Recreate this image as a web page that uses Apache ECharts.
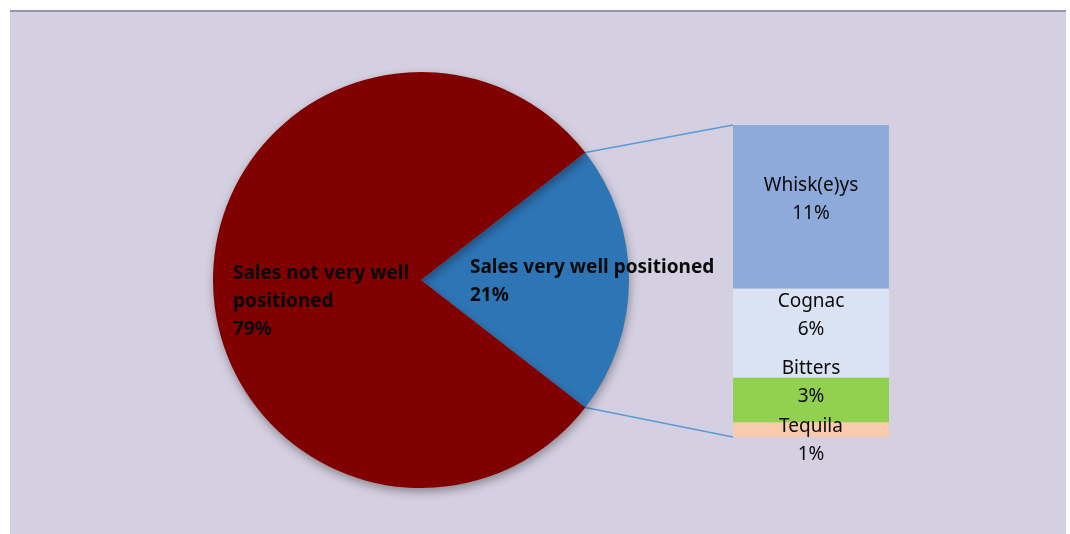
<!DOCTYPE html>
<html>
<head>
<meta charset="utf-8">
<script src="https://cdn.jsdelivr.net/npm/echarts@6/dist/echarts.min.js"></script>
<style>
  html, body { margin: 0; padding: 0; background: #ffffff; }
  #chart { width: 1070px; height: 534px; }
</style>
</head>
<body>
<div id="chart"></div>
<script>
// Split of sales, with the well-positioned share broken down by spirit
const pieNames = ['Sales very well positioned', 'Sales not very well\npositioned'];
const pieValues = [21, 79];
const pieColors = ['#2e75b6', '#800000'];

const barNames = ['Whisk(e)ys', 'Cognac', 'Bitters', 'Tequila'];
const barValues = [11, 6, 3, 1];
const barColors = ['#8eaadb', '#dae3f3', '#92d050', '#f8cbad'];
const barLabelOffsets = [-7, -17, -17, 11];

// Layout
const cx = 421, cy = 280, R = 208;
const gridLeft = 733, gridTop = 125, gridW = 156, gridH = 312;

const pieTotal = pieValues.reduce((a, b) => a + b, 0);
const barTotal = barValues.reduce((a, b) => a + b, 0);
const halfAngle = pieValues[0] / pieTotal * 360 / 2;

const chart = echarts.init(document.getElementById('chart'));

// Stacked column: bottom segment first so the first category ends on top
const barSeries = barNames.map((name, i) => ({
  type: 'bar',
  name: name,
  stack: 'breakdown',
  barWidth: '100%',
  z: 3,
  data: [barValues[i]],
  itemStyle: { color: barColors[i] },
  label: {
    show: true,
    position: 'inside',
    offset: [0, barLabelOffsets[i]],
    formatter: p => p.seriesName + '\n' + p.value + '%',
    fontFamily: 'Noto Sans',
    fontSize: 19,
    lineHeight: 28,
    color: '#0a0a0a'
  }
})).reverse();

const rad = halfAngle * Math.PI / 180;
const pieTop = [cx + R * Math.cos(rad), cy - R * Math.sin(rad)];
const pieBottom = [cx + R * Math.cos(rad), cy + R * Math.sin(rad)];

chart.setOption({
  animation: false,
  graphic: [
    { type: 'rect', z: -10, shape: { x: 10, y: 11, width: 1056, height: 530 },
      style: { fill: '#d5d0e1' } },
    { type: 'rect', z: -9, shape: { x: 10, y: 10, width: 1056, height: 2 },
      style: { fill: '#9892b0' } },
    { type: 'line', z: 1, shape: { x1: pieTop[0], y1: pieTop[1], x2: gridLeft, y2: gridTop },
      style: { stroke: '#5b9bd5', lineWidth: 1.5 } },
    { type: 'line', z: 1, shape: { x1: pieBottom[0], y1: pieBottom[1], x2: gridLeft, y2: gridTop + gridH },
      style: { stroke: '#5b9bd5', lineWidth: 1.5 } }
  ],
  grid: { left: gridLeft, top: gridTop, width: gridW, height: gridH },
  xAxis: { type: 'category', data: [''], show: false },
  yAxis: { type: 'value', min: 0, max: barTotal, show: false },
  series: [
    {
      type: 'pie',
      center: [cx, cy],
      radius: R,
      startAngle: halfAngle,
      clockwise: true,
      z: 2,
      data: pieNames.map((n, i) => ({ name: n, value: pieValues[i], itemStyle: { color: pieColors[i] } })),
      itemStyle: {
        shadowBlur: 10,
        shadowOffsetX: 1,
        shadowOffsetY: 4,
        shadowColor: 'rgba(0,0,0,0.35)'
      },
      emphasis: { disabled: true },
      labelLine: { show: false },
      label: {
        show: true,
        position: 'inside',
        formatter: p => p.name.split('\n').map(s => '{t|' + s + '}').join('\n') + '\n{t|' + p.value + '%}',
        rich: {
          t: {
            fontFamily: 'Noto Sans',
            fontWeight: 'bold',
            fontSize: 19,
            lineHeight: 28,
            color: '#0a0a0a',
            align: 'left',
            width: 260
          }
        }
      },
      labelLayout: p => p.dataIndex === 0
        ? { x: 470, y: 282, align: 'left', verticalAlign: 'middle' }
        : { x: 233, y: 302, align: 'left', verticalAlign: 'middle' }
    },
    ...barSeries
  ]
});
</script>
</body>
</html>
